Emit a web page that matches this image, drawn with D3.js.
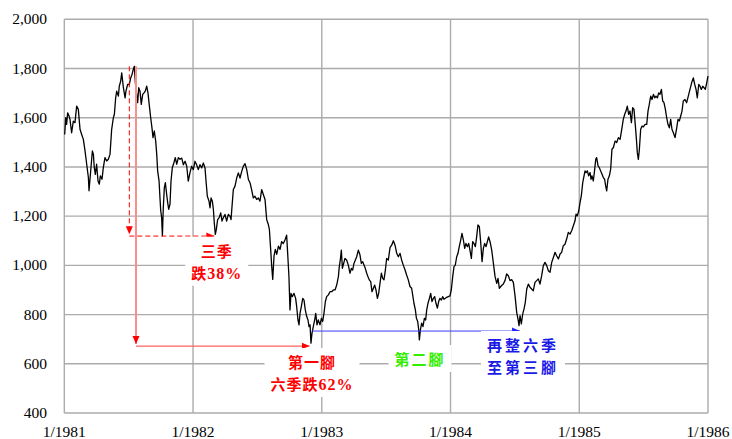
<!DOCTYPE html>
<html>
<head>
<meta charset="utf-8">
<script src="https://cdnjs.cloudflare.com/ajax/libs/d3/7.8.5/d3.min.js"></script>
<style>
  body { margin: 0; background: #fff; }
  text { font-family: "Liberation Serif", "Noto Sans CJK TC", serif; }
</style>
</head>
<body>
<svg id="stage" width="732" height="439"></svg>
<script>
var svg = d3.select("#stage");

// axis data
var years = [1981, 1982, 1983, 1984, 1985, 1986];
var yearLabels = ["1/1981", "1/1982", "1/1983", "1/1984", "1/1985", "1/1986"];
var yTicks = [400, 600, 800, 1000, 1200, 1400, 1600, 1800, 2000];

// index level (time = years since 1/1981)
var yearsIn = [
  0.003,0.011,0.018,0.026,0.037,0.044,0.057,0.070,0.083,0.096,0.109,0.122,0.135,0.148,0.161,0.174,0.187,0.192,0.205,0.218,
  0.226,0.233,0.241,0.251,0.262,0.272,0.280,0.293,0.303,0.316,0.329,0.342,0.355,0.368,0.381,0.389,0.399,0.407,0.420,0.427,
  0.438,0.446,0.459,0.472,0.479,0.492,0.505,0.516,0.526,0.536,0.544,0.552,0.562,0.570,0.578,0.588,0.598,0.609,0.619,0.629,
  0.640,0.650,0.661,0.671,0.681,0.689,0.699,0.710,0.718,0.725,0.736,0.743,0.749,0.756,0.762,0.769,0.777,0.785,0.795,0.803,
  0.811,0.821,0.829,0.839,0.852,0.862,0.873,0.886,0.899,
  0.912,0.925,0.938,0.951,0.963,0.976,0.989,1.002,1.015,1.028,1.041,1.054,1.067,1.080,1.093,1.101,1.111,1.124,1.132,1.140,
  1.150,1.158,1.165,1.173,1.181,1.191,1.202,1.215,1.225,1.235,1.248,1.261,1.274,1.287,1.295,1.303,1.313,1.326,1.339,1.352,
  1.365,1.378,1.391,1.404,1.417,1.430,1.443,1.455,1.468,1.481,1.494,1.507,1.520,1.533,1.546,1.559,1.572,1.585,1.593,1.603,
  1.611,1.619,1.629,1.639,1.650,1.663,1.676,1.688,1.701,1.714,1.727,1.735,1.745,1.753,1.761,1.771,1.784,1.797,1.805,1.815,
  1.823,1.831,1.841,1.852,1.862,1.872,1.883,1.893,1.901,1.909,1.916,1.924,1.934,1.945,1.953,1.963,1.973,1.986,1.997,
  2.007,2.017,2.028,2.038,2.051,2.064,2.077,2.090,2.103,2.116,2.129,2.136,2.144,2.152,2.160,2.170,2.180,2.193,2.206,2.219,
  2.230,2.240,2.250,2.261,2.271,2.284,2.297,2.307,2.318,2.328,2.338,2.349,2.359,2.369,2.380,2.390,2.401,2.411,2.421,2.432,
  2.442,2.452,2.463,2.473,2.483,2.494,2.504,2.517,2.530,2.543,2.556,2.569,2.582,2.595,2.608,2.620,2.633,2.647,2.659,2.672,
  2.685,2.698,2.706,2.716,2.727,2.735,2.745,2.753,2.758,2.766,2.776,2.786,2.797,2.807,2.815,2.825,2.836,2.846,2.856,2.867,
  2.877,2.887,2.898,2.908,2.918,2.929,2.939,2.949,2.960,2.970,2.983,2.996,
  3.006,3.017,3.027,3.037,3.048,3.058,3.068,3.079,3.089,3.100,3.110,3.120,3.131,3.141,3.151,3.162,3.172,3.182,3.193,3.203,
  3.213,3.224,3.234,3.245,3.255,3.265,3.276,3.286,3.296,3.307,3.320,3.333,3.346,3.359,3.369,3.379,3.397,3.410,3.423,3.436,
  3.449,3.462,3.475,3.488,3.501,3.514,3.524,3.532,3.540,3.550,3.561,3.571,3.581,3.592,3.605,3.617,3.630,3.643,3.656,3.669,
  3.682,3.695,3.708,3.721,3.734,3.747,3.760,3.773,3.786,3.799,3.812,3.824,3.838,3.851,3.863,3.876,3.889,3.902,3.915,3.928,
  3.941,3.954,3.967,3.975,3.985,3.996,
  4.006,4.016,4.027,4.037,4.045,4.053,4.063,4.073,4.084,4.091,4.099,4.109,4.117,4.128,4.135,4.146,4.156,4.166,4.177,4.187,
  4.197,4.205,4.213,4.223,4.234,4.244,4.254,4.265,4.278,4.291,4.304,4.317,4.330,4.342,4.353,4.363,4.373,4.384,4.394,4.405,
  4.415,4.425,4.436,4.444,4.451,4.459,4.467,4.477,4.488,4.498,4.511,4.524,4.534,4.544,4.555,4.565,4.576,4.586,4.596,4.607,
  4.617,4.627,4.638,4.648,4.658,4.669,4.679,4.689,4.700,4.710,4.720,4.731,4.744,4.757,4.767,4.778,4.788,4.798,4.808,4.821,
  4.834,4.847,4.860,4.873,4.886,4.897,4.907,4.917,4.928,4.938,4.948,4.959,4.969,4.979,4.990,5.000
];
var closes = [
  1532,1600,1573,1620,1607,1593,1539,1586,1580,1647,1634,1553,1532,1512,1465,1411,1357,1303,1384,1465,
  1451,1397,1370,1411,1343,1330,1364,1350,1397,1438,1424,1431,1451,1553,1600,1614,1681,1708,1688,1728,
  1749,1782,1722,1681,1708,1735,1735,1762,1776,1796,1809,1742,1695,1661,1722,1708,1654,1695,1701,1708,
  1728,1701,1647,1600,1559,1519,1546,1505,1451,1384,1343,1276,1222,1195,1120,1235,1316,1336,1289,1255,
  1228,1249,1343,1397,1418,1438,1411,1438,1431,
  1436,1409,1423,1403,1342,1376,1403,1389,1423,1409,1389,1409,1396,1416,1396,1342,1281,1261,1234,1274,
  1261,1227,1173,1126,1146,1186,1193,1213,1180,1193,1207,1180,1207,1200,1186,1241,1308,1322,1355,1376,
  1355,1382,1403,1413,1389,1349,1335,1308,1274,1281,1268,1274,1261,1308,1288,1268,1186,1166,1146,1065,
  997,943,1038,1065,1045,1078,1065,1096,1089,1103,1123,1049,954,819,886,873,886,866,832,778,
  758,805,832,866,859,819,792,778,751,758,684,724,751,778,805,758,778,758,785,
  772,805,853,873,880,893,893,900,900,920,954,995,1022,1062,988,1008,1028,1022,1001,968,
  988,981,1008,1022,1035,1062,1042,1008,1015,1001,988,968,954,941,934,893,907,920,900,866,
  886,927,968,947,941,981,1028,1022,1072,1082,1100,1082,1049,1035,1049,1022,1001,981,961,941,
  914,907,880,846,819,785,772,738,697,738,765,751,785,778,819,846,866,886,853,866,
  873,846,826,853,866,859,873,862,866,870,873,876,
  900,954,995,1001,1035,1049,1076,1103,1130,1103,1069,1089,1076,1089,1062,1028,1096,1089,1076,1116,
  1164,1157,1096,1015,1069,1089,1076,1096,1116,1096,1062,1008,954,927,947,907,918,924,938,965,
  958,938,942,931,877,809,782,755,796,762,803,823,850,904,924,911,904,897,931,938,
  945,924,958,999,1012,999,978,972,1012,1032,1053,1039,1026,1046,1053,1080,1086,1107,1134,1127,
  1141,1161,1181,1208,1201,1222,
  1255,1282,1336,1364,1384,1377,1384,1364,1377,1350,1364,1343,1377,1431,1438,1404,1397,1384,1370,1357,
  1350,1323,1303,1350,1364,1391,1472,1479,1505,1499,1519,1512,1553,1593,1614,1627,1647,1614,1627,1580,
  1641,1634,1566,1512,1458,1431,1472,1553,1566,1563,1573,1573,1627,1654,1688,1674,1695,1681,1688,1681,
  1701,1695,1715,1668,1661,1634,1600,1573,1559,1593,1553,1539,1519,1559,1593,1587,1607,1627,1668,1674,
  1661,1688,1715,1742,1762,1735,1715,1681,1735,1728,1715,1728,1722,1715,1742,1769
];

////////////////////////////// SCALES

var plotLeft = 64.3, plotRight = 708, plotTop = 19.3, plotBottom = 413;

var x = d3.scaleLinear().domain([0, 5]).range([plotLeft, plotRight]);
var y = d3.scaleLinear().domain([400, 2000]).range([plotBottom, plotTop]);

var series = yearsIn.map(function(t, i){ return {t: t, v: closes[i]}; });

////////////////////////////// GRID + AXES

var grid = svg.append("g").attr("class", "grid");

grid.selectAll("line.h")
  .data(yTicks)
  .enter().append("line")
    .attr("class", "h")
    .attr("x1", plotLeft).attr("x2", plotRight)
    .attr("y1", function(d){ return y(d); })
    .attr("y2", function(d){ return y(d); })
    .attr("stroke", "#ababab").attr("stroke-width", 1.4);

grid.selectAll("line.v")
  .data(years)
  .enter().append("line")
    .attr("class", "v")
    .attr("x1", function(d){ return x(d - 1981); })
    .attr("x2", function(d){ return x(d - 1981); })
    .attr("y1", plotTop).attr("y2", plotBottom)
    .attr("stroke", "#ababab").attr("stroke-width", 1.4);

var fmt = d3.format(",");

svg.append("g").selectAll("text")
  .data(yTicks)
  .enter().append("text")
    .attr("x", 47)
    .attr("y", function(d){ return y(d) + 5; })
    .attr("text-anchor", "end")
    .attr("font-size", 15.5)
    .text(function(d){ return fmt(d); });

svg.append("g").selectAll("text")
  .data(years)
  .enter().append("text")
    .attr("x", function(d){ return x(d - 1981); })
    .attr("y", 437)
    .attr("text-anchor", "middle")
    .attr("font-size", 15.5)
    .text(function(d, i){ return yearLabels[i]; });

////////////////////////////// LINE

var line = d3.line()
  .x(function(d){ return x(d.t); })
  .y(function(d){ return y(d.v); });

svg.append("path")
  .datum(series)
  .attr("d", line)
  .attr("fill", "none")
  .attr("stroke", "#000")
  .attr("stroke-width", 1.3)
  .attr("stroke-linejoin", "round");

////////////////////////////// ARROWS

var defs = svg.append("defs");
var makeMarker = function(id, color){
  defs.append("marker")
    .attr("id", id)
    .attr("markerUnits", "userSpaceOnUse")
    .attr("markerWidth", 9).attr("markerHeight", 8)
    .attr("refX", 8).attr("refY", 4)
    .attr("orient", "auto")
    .append("path")
      .attr("d", "M0,0.5 L8,4 L0,7.5 Z")
      .attr("fill", color);
};
makeMarker("arRed", "#ff0000");
makeMarker("arBlue", "#2020ff");

var arrow = function(t1, v1, t2, v2, color, width, dash, marker){
  svg.append("line")
    .attr("x1", x(t1)).attr("y1", y(v1))
    .attr("x2", x(t2)).attr("y2", y(v2))
    .attr("stroke", color)
    .attr("stroke-width", width)
    .attr("stroke-dasharray", dash)
    .attr("marker-end", "url(#" + marker + ")");
};

// peak to first low (dashed)
arrow(0.505, 1809, 0.505, 1126, "#ff0000", 1, "5,3", "arRed");
arrow(0.505, 1119, 1.165, 1119, "#ff0000", 1, "5,3", "arRed");
// peak to 1982 low (solid)
arrow(0.557, 1809, 0.557, 680, "#ff8c8c", 2, null, "arRed");
arrow(0.557, 672, 1.905, 672, "#ff6060", 1.2, null, "arRed");
// sideways
arrow(1.925, 733, 3.54, 733, "#3a3aff", 1, null, "arBlue");

////////////////////////////// LABELS

// digits and % get the serif face, the rest falls back to the CJK font
var label = function(t, v, lines, color, spacing){
  var g = svg.append("g");
  var box = g.append("rect").attr("fill", "#fff");
  var txt = g.append("text")
    .attr("text-anchor", "middle")
    .attr("font-size", 15)
    .attr("font-weight", "bold")
    .attr("fill", color)
    .attr("letter-spacing", spacing);
  lines.forEach(function(s, i){
    var parts = s.split(/([0-9%]+)/).filter(function(p){ return p.length; });
    parts.forEach(function(p, j){
      var ts = txt.append("tspan").text(p);
      if (j === 0) ts.attr("x", x(t)).attr("y", y(v) + i * 22);
      if (/[0-9%]/.test(p)) ts.attr("font-family", "Liberation Serif").attr("font-size", 16);
      else ts.attr("font-family", "Noto Sans CJK TC");
    });
  });
  var bb = txt.node().getBBox();
  box.attr("x", bb.x - 6).attr("y", bb.y - 3)
     .attr("width", bb.width + 12).attr("height", bb.height + 6);
};

label(1.184, 1035, ["三季", "跌38%"], "#ff0000", 1);
label(1.924, 583, ["第一腳", "六季跌62%"], "#ff0000", 1);
label(2.763, 595, ["第二腳"], "#33ee00", 2);
label(3.563, 652, ["再整六季", "至第三腳"], "#1a1ae6", 3);
</script>
</body>
</html>
